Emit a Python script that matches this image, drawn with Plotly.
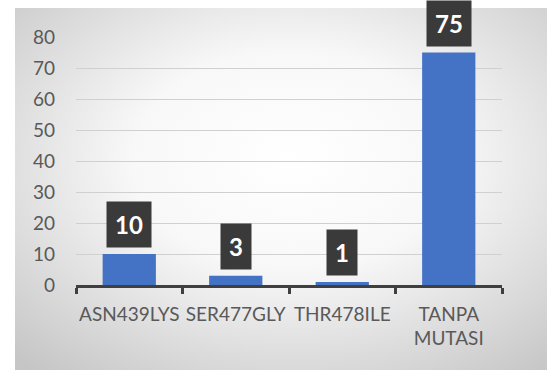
import plotly.graph_objects as go
import base64

categories = ["ASN439LYS", "SER477GLY", "THR478ILE", "TANPA<br>MUTASI"]
values = [10, 3, 1, 75]
y_ticks = [0, 10, 20, 30, 40, 50, 60, 70, 80]

W, H = 547, 370
ml, mr, mt, mb = 76, 45, 37, 85
pw = W - ml - mr
ph = H - mt - mb

svg = f'''<svg xmlns="http://www.w3.org/2000/svg" width="532" height="362" preserveAspectRatio="none">
<defs><radialGradient id="g" cx="0.52" cy="0.42" r="0.75">
<stop offset="0" stop-color="#ffffff"/><stop offset="0.4" stop-color="#f8f8f8"/>
<stop offset="1" stop-color="#c6c6c6"/></radialGradient></defs>
<rect width="532" height="362" fill="url(#g)"/></svg>'''
src = "data:image/svg+xml;base64," + base64.b64encode(svg.encode()).decode()

fig = go.Figure()
fig.add_trace(go.Bar(x=categories, y=values, marker=dict(color="#4472C4", line=dict(width=0)),
                     width=0.5, hoverinfo="x+y"))

for c, v in zip(categories, values):
    fig.add_annotation(x=c, y=v, xref="x", yref="y", text=f"<b>{v}</b>", showarrow=False,
                       yanchor="bottom", yshift=6, bgcolor="#3a3a3a", borderpad=8,
                       font=dict(family="Lato, 'Open Sans', sans-serif", size=24, color="white"))

fig.add_layout_image(dict(source=src, xref="paper", yref="paper",
                          x=(15 - ml) / pw, y=(H - mb - 8) / ph,
                          sizex=532 / pw, sizey=362 / ph, sizing="stretch",
                          xanchor="left", yanchor="top", layer="below"))

fig.update_layout(
    width=W, height=H, margin=dict(l=ml, r=mr, t=mt, b=mb, autoexpand=False),
    paper_bgcolor="white", plot_bgcolor="rgba(0,0,0,0)",
    showlegend=False,
    font=dict(family="Lato, 'Open Sans', sans-serif", size=19, color="#595959"),
    xaxis=dict(type="category", showgrid=False, showline=True, linecolor="#3f3f3f", linewidth=2.5,
               ticks="outside", tickson="boundaries", ticklen=6, tickwidth=2.5, tickcolor="#3f3f3f",
               ticklabelstandoff=10, tickangle=0, automargin=False,
               tickfont=dict(size=19, color="#595959"), zeroline=False),
    yaxis=dict(range=[0, 80], tickvals=y_ticks, showgrid=True, gridcolor="#d0d0d0", gridwidth=1,
               showline=False, zeroline=False, ticks="", ticklabelstandoff=20, automargin=False,
               tickfont=dict(size=19, color="#595959")),
)

fig.write_html("out.html")
